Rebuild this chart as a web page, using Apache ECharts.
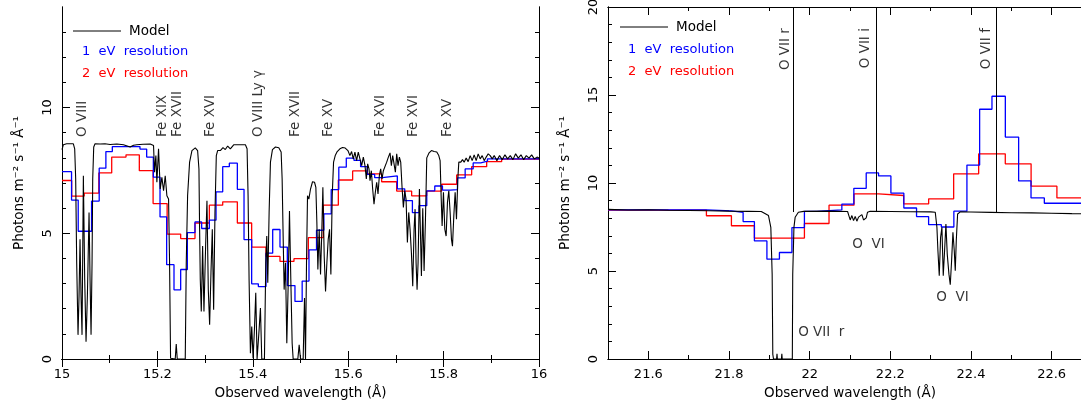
<!DOCTYPE html>
<html><head><meta charset="utf-8">
<script src="https://cdn.jsdelivr.net/npm/echarts@6.0.0/dist/echarts.min.js"></script>
<style>html,body{margin:0;padding:0;background:#fff;overflow:hidden}#c{width:1081px;height:406px}</style>
</head><body><div id="c"></div>
<script>
// ---------- Data ----------
const leftModel = [[15.000,8.33],[15.0028,8.52],[15.0098,8.56],[15.0238,8.56],[15.0266,8.36],[15.0287,7.16],[15.0308,3.83],[15.0336,0.96],[15.0357,2.5],[15.0378,4.76],[15.0399,2.5],[15.042,0.96],[15.0448,7.29],[15.0476,3.16],[15.0504,0.69],[15.0532,2.5],[15.0567,5.83],[15.0588,3.16],[15.0609,0.96],[15.063,3.83],[15.0644,7.16],[15.0665,8.43],[15.0693,8.56],[15.08,8.55],[15.09,8.56],[15.1008,8.53],[15.115,8.55],[15.1289,8.52],[15.1429,8.43],[15.15,8.5],[15.1569,8.52],[15.17,8.54],[15.1849,8.55],[15.1919,8.49],[15.194,7.43],[15.1968,8.09],[15.1989,7.03],[15.2024,8.36],[15.2059,6.76],[15.2094,7.23],[15.2129,6.69],[15.2164,7.29],[15.2199,6.49],[15.2234,6.36],[15.2255,3.83],[15.2276,0.03],[15.2374,0],[15.2395,0.6],[15.2416,0],[15.2584,0],[15.2605,3.83],[15.2633,6.49],[15.2675,7.83],[15.2724,8.29],[15.2794,8.4],[15.2843,8.29],[15.2871,7.56],[15.2885,5.16],[15.2899,3.16],[15.292,1.89],[15.2948,4.49],[15.2976,1.89],[15.3011,4.49],[15.3039,6.29],[15.3067,2.76],[15.3095,1.36],[15.3123,3.43],[15.3151,5.16],[15.3179,1.96],[15.3207,5.83],[15.3235,8.09],[15.3263,8.29],[15.3319,8.29],[15.3375,8.41],[15.3424,8.33],[15.3473,8.47],[15.3529,8.36],[15.3599,8.52],[15.3704,8.52],[15.3845,8.52],[15.388,8.36],[15.3901,6.49],[15.3922,3.16],[15.395,0.23],[15.3978,1.29],[15.4006,0.03],[15.4034,1.16],[15.4062,2.63],[15.409,0],[15.4132,1.16],[15.416,2.03],[15.4188,0],[15.4244,0],[15.4272,3.83],[15.4293,4.89],[15.4314,3.03],[15.4342,5.83],[15.437,7.83],[15.4412,8.33],[15.4475,8.43],[15.4545,8.4],[15.4594,8.23],[15.4615,7.16],[15.4636,4.89],[15.4657,2.76],[15.4685,3.83],[15.4713,0.63],[15.4741,2.89],[15.4769,5.89],[15.4797,3.16],[15.4825,0.63],[15.4846,0],[15.4944,0],[15.4972,0.56],[15.5,0],[15.5056,0],[15.5084,2.43],[15.5105,0],[15.5126,3.83],[15.5147,6.49],[15.5175,6.36],[15.521,6.76],[15.5252,7.05],[15.5294,7.03],[15.5322,6.83],[15.5343,5.43],[15.5364,3.56],[15.5392,5.16],[15.542,3.36],[15.5448,5.16],[15.5469,6.83],[15.5497,4.09],[15.5525,2.69],[15.5553,3.83],[15.5581,4.76],[15.5609,5.16],[15.5637,3.36],[15.5665,6.49],[15.5693,7.83],[15.5728,8.09],[15.577,8.25],[15.5826,8.36],[15.5882,8.41],[15.5938,8.39],[15.5994,8.29],[15.6036,8.09],[15.6071,8.25],[15.6106,7.96],[15.6141,8.23],[15.6176,7.89],[15.6211,8.23],[15.6246,8.2],[15.6282,7.69],[15.6317,8.03],[15.6352,7.69],[15.638,7.16],[15.6408,7.76],[15.6436,7.56],[15.6457,7.09],[15.6485,7.49],[15.6513,6.76],[15.6541,6.16],[15.6569,6.63],[15.6597,7.03],[15.6625,6.56],[15.6653,7.29],[15.6681,7.56],[15.6709,7.16],[15.6737,7.49],[15.6772,7.43],[15.6807,7.83],[15.6842,8.03],[15.6877,8.2],[15.6905,7.69],[15.6933,8.09],[15.6961,8.03],[15.6989,7.43],[15.7017,8.16],[15.7045,7.69],[15.7073,8.03],[15.7101,7.83],[15.7129,6.83],[15.7157,6.03],[15.7185,6.69],[15.7213,6.36],[15.7241,4.63],[15.7269,5.83],[15.7297,5.16],[15.7325,4.23],[15.7353,2.89],[15.7381,5.16],[15.7402,5.96],[15.7423,3.83],[15.7444,2.76],[15.7465,3.83],[15.7493,6.76],[15.7521,4.5],[15.7535,3.3],[15.7563,6.0],[15.7591,3.5],[15.7619,5.5],[15.7647,8.0],[15.7696,8.2],[15.7745,8.29],[15.7801,8.25],[15.7857,8.23],[15.7899,8.09],[15.7927,7.89],[15.7948,6.49],[15.7969,5.29],[15.7997,6.63],[15.8025,5.16],[15.8053,4.89],[15.8081,6.23],[15.8109,6.69],[15.8137,5.83],[15.8165,4.76],[15.8186,4.49],[15.8214,5.69],[15.8242,6.63],[15.827,5.56],[15.8298,7.16],[15.8319,7.83],[15.8361,7.83],[15.8396,7.93],[15.8431,7.83],[15.8473,7.99],[15.8515,7.85],[15.8557,8.09],[15.8599,7.89],[15.8641,8.12],[15.8683,7.89],[15.8725,8.16],[15.8767,7.96],[15.8809,8.09],[15.8851,7.89],[15.8893,8.03],[15.8935,8.16],[15.8977,8.09],[15.9019,7.96],[15.9061,8.09],[15.9117,7.89],[15.9173,8.09],[15.9229,7.93],[15.9286,8.12],[15.9342,7.96],[15.9398,8.09],[15.9454,7.93],[15.951,8.16],[15.9566,7.99],[15.9622,8.12],[15.9678,7.93],[15.9734,8.09],[15.979,7.99],[15.9846,8.12],[15.9902,7.96],[15.9958,8.03],[16.0,7.99]];

// step bins: [left edge, value]; last point closes the final bin
const left1eV = [[15.0,7.45],[15.020,6.32],[15.034,5.08],[15.062,6.28],[15.078,7.59],[15.092,8.25],[15.1055,8.45],[15.1635,8.35],[15.1775,8.03],[15.1915,7.23],[15.2055,5.65],[15.2194,3.75],[15.2348,2.75],[15.2488,3.56],[15.2628,5.03],[15.2788,5.45],[15.2928,5.19],[15.3089,5.52],[15.3229,6.65],[15.3369,7.65],[15.3508,7.79],[15.3676,6.75],[15.3816,4.75],[15.3976,2.99],[15.4116,2.88],[15.4277,4.21],[15.4417,5.15],[15.457,4.45],[15.4724,2.92],[15.4884,2.29],[15.5035,3.1],[15.5178,4.34],[15.5336,5.12],[15.549,5.77],[15.5644,6.74],[15.5803,7.63],[15.596,7.99],[15.612,7.9],[15.626,7.65],[15.640,7.34],[15.6555,7.21],[15.6716,7.28],[15.703,6.77],[15.7185,6.3],[15.7346,5.82],[15.7486,6.1],[15.7647,6.69],[15.7815,6.88],[15.7976,6.72],[15.8137,6.74],[15.8291,7.2],[15.8452,7.56],[15.862,7.8],[15.878,7.87],[15.892,7.96],[16.0,7.96]];

const left2eV = [[15.0,7.1],[15.0203,6.48],[15.0465,6.6],[15.0772,7.4],[15.1042,8.03],[15.1342,8.12],[15.1621,7.49],[15.191,6.18],[15.2204,4.97],[15.2488,4.79],[15.2788,5.41],[15.3089,6.12],[15.3369,6.25],[15.3676,5.41],[15.3976,4.45],[15.4277,4.08],[15.457,3.88],[15.4863,3.99],[15.5164,4.83],[15.5478,6.12],[15.5793,7.12],[15.6093,7.48],[15.6401,7.36],[15.6701,7.05],[15.7016,6.68],[15.733,6.49],[15.7645,6.68],[15.7959,6.95],[15.8274,7.32],[15.8588,7.65],[15.8903,7.85],[15.9217,7.95],[16.0,7.95]];

const rightModel = [[21.5,8.5],[21.55,8.47],[21.6,8.48],[21.65,8.45],[21.7,8.44],[21.75,8.42],[21.8,8.4],[21.85,8.39],[21.88,8.38],[21.8979,8.15],[21.9037,7.48],[21.907,4.82],[21.9086,0.27],[21.9103,0],[21.918,0],[21.919,0.3],[21.92,0],[21.93,0],[21.931,0.3],[21.932,0],[21.957,0],[21.958,4.8],[21.961,7.48],[21.964,8.05],[21.972,8.34],[21.985,8.39],[22.05,8.4],[22.094,8.38],[22.0964,8.2],[22.1005,7.9],[22.1047,8.15],[22.1088,7.86],[22.1129,8.1],[22.117,7.83],[22.1212,8.06],[22.1253,7.96],[22.1295,8.2],[22.1336,7.9],[22.1402,8.02],[22.1435,8.34],[22.15,8.39],[22.2,8.38],[22.25,8.37],[22.3,8.36],[22.3114,8.34],[22.3155,7.48],[22.318,6.15],[22.3213,4.73],[22.3246,6.91],[22.3279,7.48],[22.3312,4.73],[22.3345,6.15],[22.3378,7.67],[22.3411,5.96],[22.3453,4.82],[22.3486,4.22],[22.3519,5.58],[22.3552,7.2],[22.3585,6.15],[22.361,5.01],[22.3635,6.72],[22.3668,8.24],[22.3734,8.36],[22.4,8.35],[22.45,8.33],[22.5,8.31],[22.55,8.3],[22.6,8.28],[22.65,8.26],[22.7,8.25]];

const right1eV = [[21.5,8.47],[21.744,8.42],[21.806,8.33],[21.835,7.81],[21.863,6.71],[21.894,5.67],[21.925,6.05],[21.956,7.47],[21.987,8.39],[22.018,8.47],[22.0798,8.8],[22.1095,9.7],[22.1402,10.57],[22.1708,10.4],[22.2014,9.42],[22.2335,8.58],[22.2650,8.09],[22.2949,7.63],[22.3265,7.5],[22.3575,8.4],[22.3899,11.02],[22.4214,14.19],[22.452,14.93],[22.4851,12.61],[22.5181,10.12],[22.5488,9.15],[22.5818,8.85],[22.7,8.85]];

const right2eV = [[21.5,8.46],[21.744,8.14],[21.806,7.57],[21.863,6.87],[21.987,7.7],[22.048,8.74],[22.110,9.38],[22.171,9.29],[22.233,8.81],[22.295,9.1],[22.357,10.52],[22.419,11.66],[22.485,11.09],[22.549,9.82],[22.613,9.15],[22.7,9.15]];

// line identifications
const leftIdNames = ['O VIII','Fe XIX','Fe XVII','Fe XVI','O VIII Ly γ','Fe XVII','Fe XV','Fe XVI','Fe XVI','Fe XV'];
const leftIdX = [15.042,15.210,15.2416,15.311,15.4118,15.4895,15.5588,15.668,15.7374,15.8088];
const leftIdY = 8.83;
const tripletNames = ['O VII r','O VII i','O VII f'];
const tripletX = [21.959,22.164,22.463];
const tripletLabelX = [21.939,22.1377,22.438];
const tripletTop = 20, tripletBottom = 8.35, tripletLabelY = 18.8;
const rightNotes = [['O VII  r',21.9715,1.5],['O  VI',22.1055,6.53],['O  VI',22.314,3.49]];

// axis ticks
const leftXMajor = [15,15.2,15.4,15.6,15.8,16];
const leftXMinor = [15.1,15.3,15.5,15.7,15.9];
const rightXMajor = [21.6,21.8,22,22.2,22.4,22.6];
const rightXMinor = [21.5,21.7,21.9,22.1,22.3,22.5,22.7];
const leftYMajor = [0,5,10];
const leftYMinor = [1,2,3,4,6,7,8,9,11,12,13];
const rightYMajor = [0,5,10,15,20];
const rightYMinor = [1,2,3,4,6,7,8,9,11,12,13,14,16,17,18,19];

// ---------- Chart ----------
const FONT = 'DejaVu Sans';
const txt = {color:'#000', fontFamily: FONT, fontSize: 13};
const yTitle = 'Photons m\u207B\u00B2 s\u207B\u00B9 \u00C5\u207B\u00B9';

function xAx(grid, pos, min, max, ticks, len, labels, name) {
  return {type:'value', gridIndex:grid, position:pos, min, max,
    axisLine:{show:true, lineStyle:{color:'#000', width:1}},
    axisTick:{show:true, inside:true, length:len, customValues:ticks, lineStyle:{color:'#000'}},
    axisLabel: labels ? Object.assign({show:true, customValues:ticks, margin:9, formatter: v => String(+v.toFixed(1))}, txt) : {show:false},
    splitLine:{show:false},
    name: name || '', nameLocation:'middle', nameGap:27, nameTextStyle: Object.assign({}, txt, {fontSize:13.5})};
}
function yAx(grid, pos, min, max, ticks, len, labels, name, gap) {
  return {type:'value', gridIndex:grid, position:pos, min, max,
    axisLine:{show:true, lineStyle:{color:'#000', width:1}},
    axisTick:{show:true, inside:true, length:len, customValues:ticks, lineStyle:{color:'#000'}},
    axisLabel: labels ? Object.assign({show:true, customValues:ticks, rotate:90, margin:8}, txt) : {show:false},
    splitLine:{show:false},
    name: name || '', nameLocation:'middle', nameGap: gap || 36, nameRotate:90,
    nameTextStyle: Object.assign({}, txt, {fontSize:13.5})};
}

const chart = echarts.init(document.getElementById('c'), null, {renderer:'canvas'});
const lbl = (rot, align) => ({show:true, position:[0,0], rotate:rot, align, verticalAlign:'middle',
  formatter: p => p.data[2], color:'#000', fontFamily:FONT, fontSize:13.5});

const option = {
  animation:false,
  backgroundColor:'#fff',
  grid:[{left:62, top:7, width:477, height:352, outerBoundsMode:'none'},
        {left:608, top:7, width:484, height:352, outerBoundsMode:'none'}],
  xAxis:[
    xAx(0,'bottom',15,16,leftXMajor,8,true,'Observed wavelength (\u00C5)'),
    xAx(0,'bottom',15,16,leftXMinor,4,false),
    xAx(0,'top',15,16,leftXMajor,8,false),
    xAx(0,'top',15,16,leftXMinor,4,false),
    xAx(1,'bottom',21.5,22.7,rightXMajor,8,true,'Observed wavelength (\u00C5)'),
    xAx(1,'bottom',21.5,22.7,rightXMinor,4,false),
    xAx(1,'top',21.5,22.7,rightXMajor,8,false),
    xAx(1,'top',21.5,22.7,rightXMinor,4,false)
  ],
  yAxis:[
    yAx(0,'left',0,14,leftYMajor,8,true,yTitle,36),
    yAx(0,'left',0,14,leftYMinor,4,false),
    yAx(0,'right',0,14,leftYMajor,8,false),
    yAx(0,'right',0,14,leftYMinor,4,false),
    yAx(1,'left',0,20,rightYMajor,8,true,yTitle,36),
    yAx(1,'left',0,20,rightYMinor,4,false)
  ],
  series:[
    {type:'line', xAxisIndex:0, yAxisIndex:0, data:left2eV, step:'end', showSymbol:false, lineStyle:{color:'#ff0000', width:1.3}, z:2},
    {type:'line', xAxisIndex:0, yAxisIndex:0, data:left1eV, step:'end', showSymbol:false, lineStyle:{color:'#0000ff', width:1.3}, z:3},
    {type:'line', xAxisIndex:0, yAxisIndex:0, data:leftModel, showSymbol:false, lineStyle:{color:'#000', width:1.1}, z:4},
    {type:'line', xAxisIndex:4, yAxisIndex:4, data:right2eV, step:'end', showSymbol:false, lineStyle:{color:'#ff0000', width:1.3}, z:2},
    {type:'line', xAxisIndex:4, yAxisIndex:4, data:right1eV, step:'end', showSymbol:false, lineStyle:{color:'#0000ff', width:1.3}, z:3},
    {type:'line', xAxisIndex:4, yAxisIndex:4, data:rightModel, showSymbol:false, lineStyle:{color:'#000', width:1.1}, z:4,
      markLine:{silent:true, symbol:['none','none'], label:{show:false}, lineStyle:{color:'#000', width:1, type:'solid'},
        data: tripletX.map(x => [{coord:[x,tripletTop]},{coord:[x,tripletBottom]}])}},
    {type:'scatter', xAxisIndex:0, yAxisIndex:0, symbolSize:0, silent:true,
      data: leftIdNames.map((n,i) => [leftIdX[i], leftIdY, n]), label: lbl(90,'left')},
    {type:'scatter', xAxisIndex:4, yAxisIndex:4, symbolSize:0, silent:true,
      data: tripletNames.map((n,i) => [tripletLabelX[i], tripletLabelY, n]), label: lbl(90,'right')},
    {type:'scatter', xAxisIndex:4, yAxisIndex:4, symbolSize:0, silent:true,
      data: rightNotes.map(r => [r[1], r[2], r[0]]), label: lbl(0,'left')}
  ],
  graphic:[
    {type:'line', shape:{x1:73,y1:31,x2:121,y2:31}, style:{stroke:'#000', lineWidth:1}},
    {type:'text', x:129, y:31, style:{text:'Model', fill:'#000', fontFamily:FONT, fontSize:13.5, verticalAlign:'middle'}},
    {type:'text', x:82, y:52, style:{text:'1  eV  resolution', fill:'#0000ff', fontFamily:FONT, fontSize:13, verticalAlign:'middle'}},
    {type:'text', x:82, y:74, style:{text:'2  eV  resolution', fill:'#ff0000', fontFamily:FONT, fontSize:13, verticalAlign:'middle'}},
    {type:'line', shape:{x1:620,y1:27,x2:668,y2:27}, style:{stroke:'#000', lineWidth:1}},
    {type:'text', x:676, y:27, style:{text:'Model', fill:'#000', fontFamily:FONT, fontSize:13.5, verticalAlign:'middle'}},
    {type:'text', x:628, y:50, style:{text:'1  eV  resolution', fill:'#0000ff', fontFamily:FONT, fontSize:13, verticalAlign:'middle'}},
    {type:'text', x:628, y:72, style:{text:'2  eV  resolution', fill:'#ff0000', fontFamily:FONT, fontSize:13, verticalAlign:'middle'}}
  ]
};
chart.setOption(option);
</script></body></html>
